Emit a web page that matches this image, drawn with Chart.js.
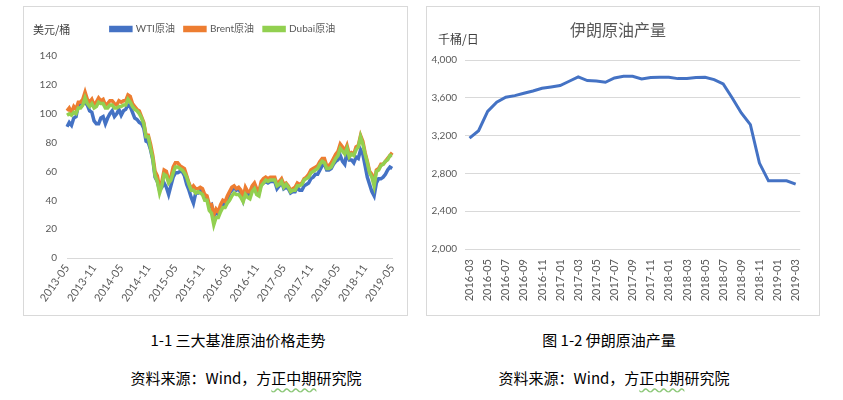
<!DOCTYPE html>
<html lang="zh-CN">
<head>
<meta charset="utf-8">
<title>三大基准原油价格走势 / 伊朗原油产量</title>
<script src="https://cdn.jsdelivr.net/npm/chart.js@4.4.1/dist/chart.umd.min.js"></script>
<style>
  body { margin: 0; width: 843px; height: 400px; position: relative; overflow: hidden; background: #fff;
         font-family: "Noto Sans CJK SC", sans-serif; }
  .box { position: absolute; border: 1px solid #d9d9d9; background: #fff; }
  .box canvas { position: absolute; left: 0; top: 0; }
  #priceBox { left: 23px; top: 6px; width: 383px; height: 308px; }
  #outputBox { left: 426px; top: 6px; width: 392px; height: 308px; }
  .unit { position: absolute; font-size: 11px; color: #404040; white-space: nowrap; line-height: 14px; }
  .caption { position: absolute; width: 300px; text-align: center; font-size: 15px; color: #000;
             white-space: nowrap; line-height: 20px; }
  .wavy { text-decoration: underline wavy #8cc878; text-underline-offset: 3px; }
</style>
</head>
<body>
<div class="box" id="priceBox"><canvas id="priceChart" width="383" height="308"></canvas></div>
<div class="box" id="outputBox"><canvas id="outputChart" width="392" height="308"></canvas></div>

<div class="unit" style="left:33px; top:22px;">美元/桶</div>
<div class="unit" style="left:438px; top:32px; font-size:12px;">千桶/日</div>

<div class="caption" style="left:88px; top:330px;">1-1 三大基准原油价格走势</div>
<div class="caption" style="left:459px; top:330px;">图 1-2 伊朗原油产量</div>
<div class="caption" style="left:96px; top:368px;">资料来源：Wind，方<span class="wavy">正中期</span>研究院</div>
<div class="caption" style="left:464px; top:368px;">资料来源：Wind，方<span class="wavy">正中期</span>研究院</div>

<script>
// ---- chart 1-1: benchmark crude prices (USD/bbl), read on the 1st and 16th of each month ----
const priceFirstMonth = "2013-05";
const priceLastMonth = "2019-05";

const wtiPrices = [
  91, 94, 92, 97, 98, 106, 107, 107, 108, 106, 102, 101, 95, 93, 93, 97,
  98, 93, 97, 100, 102, 98, 100, 103, 99, 102, 103, 106, 105, 101, 97, 96, 94, 93, 90, 81, 80, 75, 68, 56,
  53, 47, 49, 52, 49, 44, 50, 56, 59, 59, 60, 60, 57, 51, 47, 42, 38, 45, 45, 47, 46, 41, 41, 36,
  37, 29, 32, 30, 34, 38, 37, 40, 45, 47, 49, 47, 48, 45, 40, 46, 44, 43, 48, 50, 46, 45, 51, 52,
  53, 52, 53, 53, 53, 48, 50, 53, 48, 49, 48, 45, 46, 46, 49, 47, 47, 50, 51, 52, 55, 56, 58, 58,
  61, 64, 65, 61, 61, 62, 65, 67, 68, 71, 67, 65, 74, 68, 68, 66, 70, 69, 75, 72, 64, 56, 51, 46,
  43, 52, 55, 55, 56, 58, 61, 63, 62
];

const brentPrices = [
  102, 104, 101, 105, 103, 108, 108, 110, 115, 110, 108, 110, 106, 108, 111, 109,
  110, 106, 107, 109, 109, 107, 106, 109, 108, 109, 109, 113, 112, 107, 105, 103, 102, 98, 94, 85, 85, 79, 71, 60,
  57, 49, 53, 61, 60, 54, 56, 63, 66, 66, 64, 63, 62, 57, 52, 48, 50, 48, 48, 49, 48, 44, 43, 37,
  37, 30, 34, 32, 37, 40, 39, 43, 46, 49, 50, 48, 49, 47, 42, 49, 46, 46, 50, 52, 48, 46, 53, 55,
  56, 55, 56, 56, 56, 51, 53, 55, 51, 52, 50, 47, 48, 49, 52, 51, 52, 55, 56, 58, 61, 62, 63, 64,
  67, 69, 69, 64, 64, 66, 69, 72, 74, 79, 77, 74, 78, 72, 73, 72, 77, 78, 85, 81, 73, 67, 60, 58,
  52, 61, 62, 65, 65, 67, 69, 71, 73
];

const dubaiPrices = [
  99, 100, 99, 101, 100, 104, 104, 106, 111, 107, 105, 107, 104, 105, 108, 107,
  107, 104, 104, 106, 106, 104, 104, 105, 105, 106, 106, 110, 108, 105, 103, 102, 100, 97, 93, 84, 84, 76, 69, 57,
  53, 45, 50, 58, 57, 52, 54, 59, 63, 63, 62, 61, 59, 56, 51, 47, 47, 45, 46, 45, 44, 40, 40, 33,
  31, 23, 28, 28, 32, 35, 35, 38, 40, 43, 45, 44, 44, 42, 39, 44, 42, 41, 46, 48, 44, 43, 50, 52,
  54, 53, 54, 54, 54, 50, 51, 53, 49, 51, 49, 46, 47, 47, 50, 50, 51, 54, 55, 56, 59, 60, 61, 62,
  65, 67, 66, 62, 62, 63, 66, 69, 71, 76, 74, 72, 76, 70, 72, 71, 75, 77, 84, 79, 72, 66, 59, 56,
  50, 60, 61, 64, 65, 67, 68, 71, 71
];

const priceTickMonths = ["05", "11"];

// ---- chart 1-2: Iran crude output (kb/d), monthly ----
const outputMonths = [
  "2016-03", "2016-04", "2016-05", "2016-06", "2016-07", "2016-08", "2016-09", "2016-10", "2016-11", "2016-12",
  "2017-01", "2017-02", "2017-03", "2017-04", "2017-05", "2017-06", "2017-07", "2017-08", "2017-09", "2017-10",
  "2017-11", "2017-12", "2018-01", "2018-02", "2018-03", "2018-04", "2018-05", "2018-06", "2018-07", "2018-08",
  "2018-09", "2018-10", "2018-11", "2018-12", "2019-01", "2019-02", "2019-03"
];

const iranOutput = [
  3175, 3253, 3458, 3554, 3607, 3625, 3650, 3674, 3703, 3717,
  3731, 3777, 3823, 3784, 3780, 3766, 3812, 3830, 3830, 3802,
  3816, 3820, 3820, 3805, 3805, 3816, 3820, 3795, 3749, 3600,
  3441, 3317, 2910, 2722, 2722, 2722, 2687
];

const axisFont = { family: "Lato, 'Noto Sans CJK SC', sans-serif", size: 10 };
const tickColor = "#595959";

// Build the half-month date labels for chart 1-1
function buildPriceDates() {
  const dates = [];
  let [y, m] = priceFirstMonth.split("-").map(Number);
  const [endY, endM] = priceLastMonth.split("-").map(Number);
  while (y < endY || (y === endY && m <= endM)) {
    const mm = String(m).padStart(2, "0");
    dates.push(`${y}-${mm}-01`);
    if (!(y === endY && m === endM)) dates.push(`${y}-${mm}-16`);
    m++;
    if (m > 12) { m = 1; y++; }
  }
  return dates;
}

const priceDates = buildPriceDates();

// order: higher number is drawn first (underneath), like Excel's series order
function lineSet(label, data, color, order, width) {
  return {
    label: label,
    data: data,
    borderColor: color,
    backgroundColor: color,
    borderWidth: width,
    pointRadius: 0,
    tension: 0,
    order: order,
  };
}

// Leave extra room under the legend and nudge it right, as in the Excel original
const legendGap = {
  id: "legendGap",
  beforeInit(chart) {
    const fitLegend = chart.legend.fit;
    chart.legend.fit = function () {
      fitLegend.call(this);
      this.height += 12;
    };
  },
  afterLayout(chart) {
    chart.legend.left += 12;
    chart.legend.right += 12;
  },
};

function buildPriceChart() {
  const ctx = document.getElementById("priceChart").getContext("2d");
  return new Chart(ctx, {
    type: "line",
    data: {
      labels: priceDates,
      datasets: [
        lineSet("WTI原油", wtiPrices, "#4472C4", 3, 3.5),
        lineSet("Brent原油", brentPrices, "#ED7D31", 2, 3.5),
        lineSet("Dubai原油", dubaiPrices, "#92D050", 1, 3.5),
      ],
    },
    plugins: [legendGap],
    options: {
      responsive: false,
      animation: false,
      layout: { padding: { left: 0, right: 9, top: 7, bottom: 0 } },
      plugins: {
        tooltip: { enabled: false },
        legend: {
          position: "top",
          labels: {
            boxWidth: 20,
            boxHeight: 3,
            padding: 10,
            color: tickColor,
            font: { family: "Lato, 'Noto Sans CJK SC', sans-serif", size: 10 },
            sort: (a, b) => a.datasetIndex - b.datasetIndex,
          },
        },
      },
      scales: {
        x: {
          type: "category",
          offset: false,
          grid: { display: false, drawTicks: false },
          border: { display: true, color: "#d9d9d9" },
          afterFit: (scale) => { scale.height = 57; },
          ticks: {
            autoSkip: false,
            minRotation: 55,
            maxRotation: 55,
            padding: 4,
            color: tickColor,
            font: { family: "Lato, sans-serif", size: 11 },
            callback: function (value) {
              const label = this.getLabelForValue(value);
              const month = label.slice(5, 7);
              if (label.endsWith("-01") && priceTickMonths.includes(month)) return label.slice(0, 7);
              return null;
            },
          },
        },
        y: {
          min: 0,
          max: 140,
          grid: { display: false, drawTicks: false },
          border: { display: false },
          afterFit: (scale) => { scale.width = 43; },
          ticks: { stepSize: 20, padding: 10, color: tickColor, font: axisFont },
        },
      },
    },
  });
}

function buildOutputChart() {
  const ctx = document.getElementById("outputChart").getContext("2d");
  return new Chart(ctx, {
    type: "line",
    data: {
      labels: outputMonths,
      datasets: [lineSet("伊朗原油产量", iranOutput, "#4472C4", 0, 3)],
    },
    options: {
      responsive: false,
      animation: false,
      layout: { padding: { left: 0, right: 10, top: 13, bottom: 0 } },
      plugins: {
        tooltip: { enabled: false },
        legend: { display: false },
        title: {
          display: true,
          text: "伊朗原油产量",
          color: "#595959",
          font: { family: "'Noto Sans CJK SC', sans-serif", size: 16, weight: "normal" },
          padding: { top: 0, bottom: 21 },
        },
      },
      scales: {
        x: {
          type: "category",
          offset: true,
          grid: { display: false, drawTicks: false },
          border: { display: false },
          afterFit: (scale) => { scale.height = 66; },
          ticks: {
            autoSkip: false,
            minRotation: 90,
            maxRotation: 90,
            padding: 10,
            color: tickColor,
            font: { family: "Lato, sans-serif", size: 11 },
            callback: function (value, index) {
              return index % 2 === 0 ? this.getLabelForValue(value) : null;
            },
          },
        },
        y: {
          min: 2000,
          max: 4000,
          grid: { color: "#d9d9d9", drawTicks: false },
          border: { display: false },
          afterFit: (scale) => { scale.width = 38; },
          ticks: {
            stepSize: 400,
            padding: 8,
            color: tickColor,
            font: axisFont,
            callback: (value) => value.toLocaleString("en-US"),
          },
        },
      },
    },
  });
}

buildPriceChart();
buildOutputChart();
</script>
</body>
</html>
